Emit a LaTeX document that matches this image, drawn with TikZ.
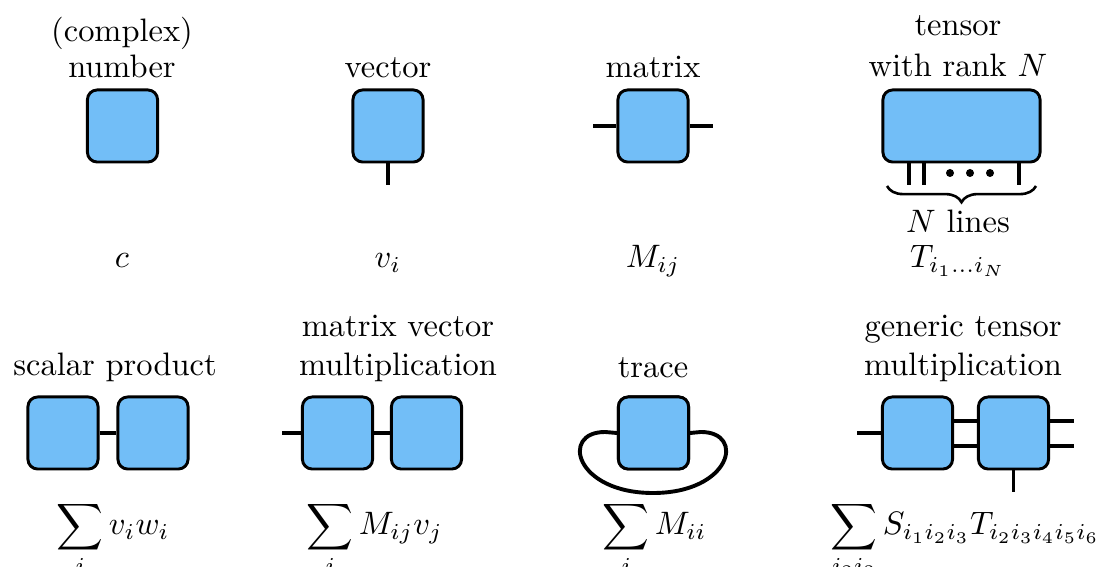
\documentclass[tikz,border=0pt]{standalone}
\usepackage{amsmath}
\usetikzlibrary{calc,decorations.pathreplacing}
\definecolor{tensorblue}{RGB}{114,190,247}
\tikzset{
  x=0.308pt, y=-0.308pt,
  tbox/.style={draw=black, fill=tensorblue, line width=0.9pt, rounded corners=3pt,
               minimum width=21.6pt, minimum height=22.2pt, inner sep=0pt},
  leg/.style={line width=1pt},
  lbl/.style={anchor=base, inner sep=0pt},
  sumlbl/.style={anchor=base west, inner sep=0pt},
}
\begin{document}
\begin{tikzpicture}
\useasboundingbox (0,0) rectangle (1104,567);

% ---- row 1: basic objects ----
\node[lbl] at (122,42) {(complex)};
\node[lbl] at (122,78) {number};
\node[tbox] (c) at (122.5,126) {};
\node[lbl] at (122,268) {$c$};

\node[lbl] at (388,78) {vector};
\node[tbox] (v) at (388,126) {};
\coordinate (vleg) at (388,185);
\draw[leg] (v) -- (vleg);
\node[lbl] at (388,268) {$v_i$};

\node[lbl] at (653,78) {matrix};
\node[tbox] (m) at (653,126) {};
\coordinate (mleft) at (593,126);
\coordinate (mright) at (713,126);
\draw[leg] (mleft) -- (m) -- (mright);
\node[lbl] at (653,268) {$M_{ij}$};

\node[lbl] at (958,36) {tensor};
\node[lbl] at (958,77) {with rank $N$};
\node[tbox, minimum width=48.4pt] (t) at (961.5,126) {};
\foreach \px/\nm in {909/ta, 924/tb, 1019/tc}{
  \coordinate (\nm) at (\px,185);
  \draw[leg] (t.south -| \nm) -- (\nm);
}
\foreach \px in {950,970,990}{
  \fill (\px,173) circle (4);
}
\coordinate (bl) at (887,186);
\coordinate (br) at (1036,186);
\draw[line width=0.8pt, decorate, decoration={brace, mirror, amplitude=5pt}] (bl) -- (br);
\node[lbl] at (958,233) {$N$ lines};
\node[lbl] at (958,268) {$T_{i_1\dots i_N}$};

% ---- row 2: contractions ----
\node[lbl] at (115,376) {scalar product};
\node[tbox] (s1) at (63,433) {};
\node[tbox] (s2) at (153,433) {};
\draw[leg] (s1) -- (s2);
\node[sumlbl] at (56,535) {$\displaystyle\sum_i v_i w_i$};

\node[lbl] at (398,337) {matrix vector};
\node[lbl] at (398,376) {multiplication};
\node[tbox] (mv1) at (337.5,433) {};
\node[tbox] (mv2) at (426.5,433) {};
\coordinate (mvleft) at (282,433);
\draw[leg] (mvleft) -- (mv1) -- (mv2);
\node[sumlbl] at (306,535) {$\displaystyle\sum_i M_{ij} v_j$};

\node[lbl] at (653,378) {trace};
\node[tbox] (tr) at (653.5,433) {};
\draw[leg, line width=1.2pt] (tr.west) -- (605,432)
  .. controls (560,432) and (575,493) .. (653,493)
  .. controls (731,493) and (746,432) .. (701,432) -- (tr.east);
\node[tbox] at (tr) {};
\node[sumlbl] at (602,535) {$\displaystyle\sum_i M_{ii}$};

\node[lbl] at (963,337) {generic tensor};
\node[lbl] at (963,376) {multiplication};
\node[tbox] (g1) at (917.5,433) {};
\node[tbox] (g2) at (1013.5,433) {};
\coordinate (gleft) at (857,433);
\draw[leg] (gleft) -- (g1);
\draw[leg] ($(g1.east)+(0,-12)$) -- ($(g2.west)+(0,-12)$);
\draw[leg] ($(g1.east)+(0,13)$) -- ($(g2.west)+(0,13)$);
\coordinate (gr1) at (1074,421);
\coordinate (gr2) at (1074,446);
\draw[leg] (g2.east |- gr1) -- (gr1);
\draw[leg] (g2.east |- gr2) -- (gr2);
\coordinate (gbot) at (1013.5,492);
\draw[leg] (g2) -- (gbot);
\node[sumlbl] at (830,535) {$\displaystyle\sum_{i_2 i_3} S_{i_1 i_2 i_3} T_{i_2 i_3 i_4 i_5 i_6}$};
\end{tikzpicture}
\end{document}
